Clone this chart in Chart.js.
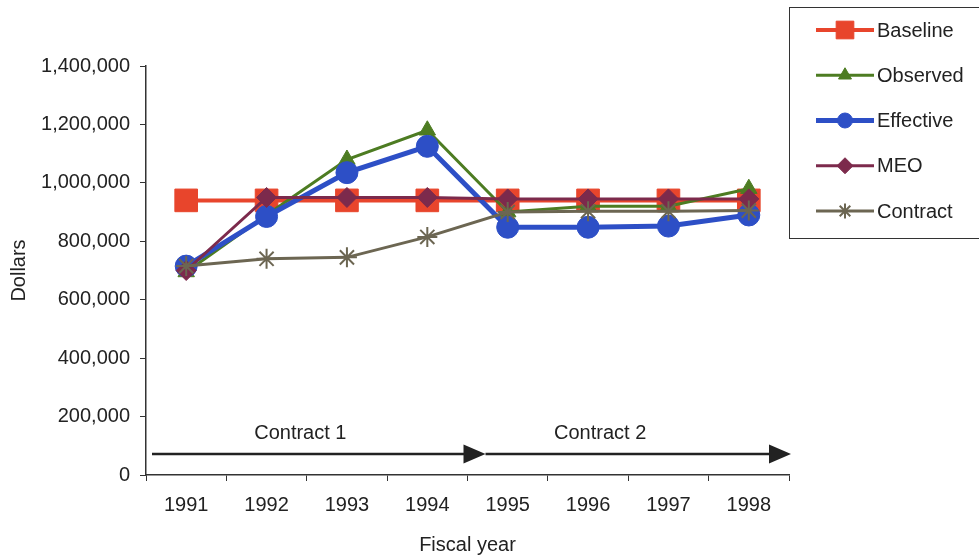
<!DOCTYPE html>
<html>
<head>
<meta charset="utf-8">
<script src="https://cdn.jsdelivr.net/npm/chart.js@4/dist/chart.umd.min.js"></script>
<style>
  html, body { margin: 0; padding: 0; background: #ffffff; }
  #wrap { width: 979px; height: 559px; position: relative; }
</style>
</head>
<body>
<div id="wrap"><canvas id="chart" width="979" height="559"></canvas></div>
<script>
// Fiscal years on the x axis
const years = ['1991', '1992', '1993', '1994', '1995', '1996', '1997', '1998'];

// Cost series, in dollars
const baseline  = [940000, 940000, 940000, 940000, 940000, 940000, 940000, 940000];
const observed  = [695000, 890000, 1080000, 1180000, 900000, 920000, 920000, 980000];
const effective = [715000, 885000, 1035000, 1125000, 848000, 848000, 852000, 890000];
const meo       = [700000, 950000, 950000, 950000, 945000, 945000, 945000, 945000];
const contract  = [715000, 740000, 745000, 815000, 900000, 903000, 903000, 905000];

// Y axis ticks
const yTicks = [0, 200000, 400000, 600000, 800000, 1000000, 1200000, 1400000];

// Contract periods shown as arrows above the x axis
const periods = ['Contract 1', 'Contract 2'];

const FONT = 'Liberation Sans, Arial, Helvetica, sans-serif';
const INK = '#222222';

const seriesStyle = [
  { label: 'Baseline',  data: baseline,  color: '#e8452c', width: 4,   style: 'rect',     radius: 16,  legendRadius: 12.5 },
  { label: 'Observed',  data: observed,  color: '#4d7c22', width: 3,   style: 'triangle', radius: 9.5, legendRadius: 7.5 },
  { label: 'Effective', data: effective, color: '#2d4fc6', width: 5,   style: 'circle',   radius: 11,  legendRadius: 7.5 },
  { label: 'MEO',       data: meo,       color: '#7c2a4c', width: 3,   style: 'rectRot',  radius: 10,  legendRadius: 8 },
  { label: 'Contract',  data: contract,  color: '#6c6652', width: 3,   style: 'star',     radius: 10,  legendRadius: 7.5 }
];

const datasets = seriesStyle.map((s, i) => ({
  label: s.label,
  data: s.data,
  borderColor: s.color,
  backgroundColor: s.color,
  borderWidth: s.width,
  pointStyle: s.style,
  pointRadius: s.radius,
  pointHoverRadius: s.radius,
  pointBackgroundColor: s.color,
  pointBorderColor: s.color,
  pointBorderWidth: s.style === 'star' ? 2 : 1,
  tension: 0,
  fill: false,
  order: seriesStyle.length - i,
  legendRadius: s.legendRadius
}));

function drawMarker(ctx, style, x, y, r, color, lw) {
  ctx.save();
  ctx.fillStyle = color;
  ctx.strokeStyle = color;
  ctx.lineWidth = lw;
  if (window.Chart && Chart.helpers && Chart.helpers.drawPoint) {
    Chart.helpers.drawPoint(ctx, { pointStyle: style, radius: r, rotation: 0, borderWidth: lw }, x, y);
  } else {
    ctx.beginPath();
    ctx.arc(x, y, r, 0, Math.PI * 2);
    ctx.fill();
  }
  ctx.restore();
}

// Legend box in the top-right corner
const legendBox = {
  id: 'legendBox',
  afterDraw(chart) {
    const ctx = chart.ctx;
    const left = 789, top = 7, bottom = 238;
    ctx.save();
    ctx.strokeStyle = '#333333';
    ctx.lineWidth = 1;
    ctx.strokeRect(left + 0.5, top + 0.5, 1000 - left, bottom - top);
    const rows = chart.data.datasets;
    const step = (211 - 30) / (rows.length - 1);
    rows.forEach((ds, i) => {
      const y = 30 + i * step;
      ctx.strokeStyle = ds.borderColor;
      ctx.lineWidth = ds.borderWidth;
      ctx.beginPath();
      ctx.moveTo(816, y);
      ctx.lineTo(874, y);
      ctx.stroke();
      drawMarker(ctx, ds.pointStyle, 845, y, ds.legendRadius, ds.borderColor, ds.pointBorderWidth);
      ctx.fillStyle = INK;
      ctx.font = '20px ' + FONT;
      ctx.textAlign = 'left';
      ctx.textBaseline = 'middle';
      ctx.fillText(ds.label, 877, y + 1);
    });
    ctx.restore();
  }
};

// Contract period arrows along the bottom of the plot
const contractArrows = {
  id: 'contractArrows',
  afterDatasetsDraw(chart) {
    const ctx = chart.ctx;
    const x = chart.scales.x;
    const area = chart.chartArea;
    const y = area.bottom - 21;
    const split = x.getPixelForValue(3.5);
    const segs = [
      { from: area.left + 6, tip: split + 18, labelX: x.getPixelForValue(1.42) },
      { from: split + 18, tip: area.right + 2, labelX: x.getPixelForValue(5.15) }
    ];
    ctx.save();
    segs.forEach((s, i) => {
      ctx.strokeStyle = INK;
      ctx.fillStyle = INK;
      ctx.lineWidth = 2.5;
      ctx.beginPath();
      ctx.moveTo(s.from, y);
      ctx.lineTo(s.tip - 18, y);
      ctx.stroke();
      ctx.beginPath();
      ctx.moveTo(s.tip, y);
      ctx.lineTo(s.tip - 22, y - 9.5);
      ctx.lineTo(s.tip - 22, y + 9.5);
      ctx.closePath();
      ctx.fill();
      ctx.font = '20px ' + FONT;
      ctx.textAlign = 'center';
      ctx.textBaseline = 'middle';
      ctx.fillText(periods[i], s.labelX, y - 21);
    });
    ctx.restore();
  }
};

new Chart(document.getElementById('chart'), {
  type: 'line',
  data: { labels: years, datasets: datasets },
  options: {
    responsive: false,
    animation: false,
    events: [],
    layout: { padding: { top: 66, right: 190, left: 0, bottom: 0 } },
    plugins: { legend: { display: false }, tooltip: { enabled: false } },
    scales: {
      x: {
        type: 'category',
        offset: true,
        grid: { offset: true, drawOnChartArea: false, drawTicks: true, tickLength: 6, color: '#333333', lineWidth: 1 },
        border: { display: true, color: '#333333', width: 1.5 },
        ticks: { color: INK, font: { family: FONT, size: 20 }, padding: 12, maxRotation: 0, autoSkip: false },
        title: { display: true, text: 'Fiscal year', color: INK, font: { family: FONT, size: 20 }, padding: { top: 0, bottom: 2 } },
        afterFit(scale) { scale.height = 84; }
      },
      y: {
        min: 0,
        max: 1400000,
        afterBuildTicks(scale) { scale.ticks = yTicks.map(v => ({ value: v })); },
        grid: { drawOnChartArea: false, drawTicks: true, tickLength: 6, color: '#333333', lineWidth: 1 },
        border: { display: true, color: '#333333', width: 1.5 },
        ticks: { color: INK, font: { family: FONT, size: 20 }, padding: 10, callback: v => Number(v).toLocaleString('en-US') },
        title: { display: true, text: 'Dollars', color: INK, font: { family: FONT, size: 20 }, padding: { top: 7, bottom: 0 } },
        afterFit(scale) { scale.width = 146; }
      }
    }
  },
  plugins: [legendBox, contractArrows]
});
</script>
</body>
</html>
